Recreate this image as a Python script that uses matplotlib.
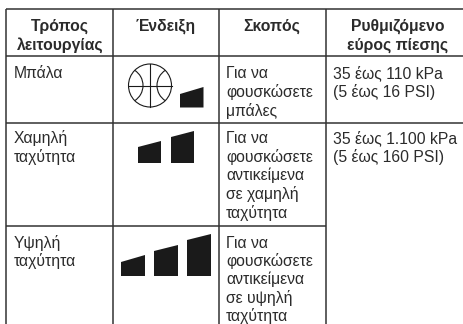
import matplotlib
matplotlib.use("Agg")
import matplotlib.pyplot as plt
from matplotlib.patches import Circle, Polygon, Arc

plt.rcParams['font.family'] = ['Liberation Sans', 'DejaVu Sans']

headers = ["Τρόπος\nλειτουργίας", "Ένδειξη", "Σκοπός", "Ρυθμιζόμενο\nεύρος πίεσης"]
modes = ["Μπάλα", "Χαμηλή\nταχύτητα", "Υψηλή\nταχύτητα"]
purposes = ["Για να\nφουσκώσετε\nμπάλες",
            "Για να\nφουσκώσετε\nαντικείμενα\nσε χαμηλή\nταχύτητα",
            "Για να\nφουσκώσετε\nαντικείμενα\nσε υψηλή\nταχύτητα"]
ranges = ["35 έως 110 kPa\n(5 έως 16 PSI)", "35 έως 1.100 kPa\n(5 έως 160 PSI)"]

W, H = 463, 324
col_x = [6, 113, 219, 326]
row_y = [9, 56, 122.5, 226]
header_cx = [60, 166, 272, 398]
text_x = [14, 226, 333]
baselines = [78, 143, 248]
row_ls = [19, 18.7, 18.2]
FS = 11.3
COL = "#2b2b2b"
LINE = "#333333"

fig = plt.figure(figsize=(W / 100, H / 100), dpi=100)
ax = fig.add_axes([0, 0, 1, 1])
ax.set_xlim(0, W)
ax.set_ylim(H, 0)
ax.axis("off")

def block(x, y, s, ls=19, **kw):
    for i, line in enumerate(s.split("\n")):
        ax.text(x, y + i * ls, line, fontsize=FS, color=COL, va="baseline", **kw)

# grid
ax.hlines(row_y[:3], col_x[0], W, color=LINE, lw=1.1)
ax.hlines(row_y[3], col_x[0], col_x[3], color=LINE, lw=1.1)
ax.vlines(col_x, row_y[0], H, color=LINE, lw=1.1)

# text
for cx, h in zip(header_cx, headers):
    block(cx, 31, h, ha="center", fontweight="bold")
for y, ls, m in zip(baselines, row_ls, modes):
    block(text_x[0], y, m, ls=ls, ha="left")
for y, ls, p in zip(baselines, row_ls, purposes):
    block(text_x[1], y, p, ls=ls, ha="left")
for y, ls, r in zip(baselines, row_ls, ranges):
    block(text_x[2], y, r, ls=ls, ha="left")

# icons
def wedge(x0, x1, top_l, top_r, bottom):
    ax.add_patch(Polygon([(x0, bottom), (x0, top_l), (x1, top_r), (x1, bottom)],
                         closed=True, fc="#1a1a1a", ec="none"))

cx, cy, r = 150, 85.5, 21.5
ax.add_patch(Circle((cx, cy), r, fc="none", ec="#1a1a1a", lw=0.8))
ax.plot([cx, cx], [cy - r, cy + r], color="#1a1a1a", lw=0.8)
ax.plot([cx - r, cx + r], [cy, cy], color="#1a1a1a", lw=0.8)
ax.add_patch(Arc((cx - 25, cy), 36, 36, theta1=-58, theta2=58, ec="#1a1a1a", lw=0.8))
ax.add_patch(Arc((cx + 25, cy), 36, 36, theta1=122, theta2=238, ec="#1a1a1a", lw=0.8))
wedge(180, 203.5, 94, 87, 107.5)

wedge(138, 161, 147, 141, 163)
wedge(171, 194, 137, 131, 163)

wedge(121, 145, 262, 255, 276)
wedge(154, 178, 251, 245, 276)
wedge(187, 211, 240, 234, 276)

fig.savefig("out.png", dpi=100)
